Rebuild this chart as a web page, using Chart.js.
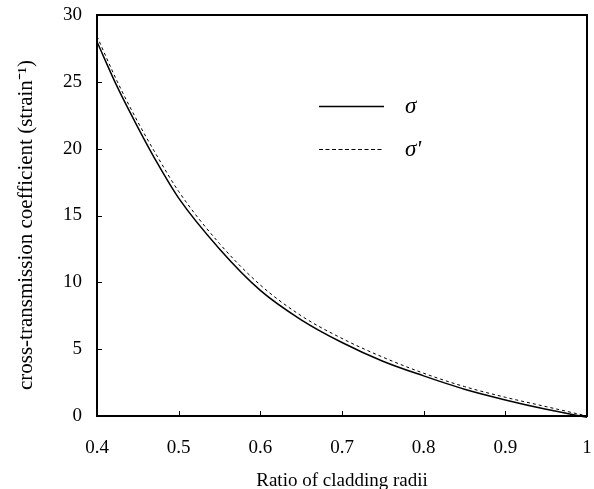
<!DOCTYPE html>
<html>
<head>
<meta charset="utf-8">
<script src="https://cdn.jsdelivr.net/npm/chart.js@4.4.1/dist/chart.umd.min.js"></script>
<style>
  html, body { margin: 0; padding: 0; background: #fff; }
  #wrap { width: 594px; height: 489px; }
</style>
</head>
<body>
<div id="wrap"><canvas id="chart" width="594" height="489"></canvas></div>
<script>
"use strict";

// ratio of cladding radii
const ratios = [0.40, 0.425, 0.45, 0.475, 0.50, 0.55, 0.60, 0.65, 0.70, 0.75, 0.80, 0.85, 0.90, 0.95, 1.00];
// sigma (solid)
const sigma = [28.0, 24.6, 21.6, 18.8, 16.3, 12.5, 9.4, 7.2, 5.5, 4.1, 3.0, 2.0, 1.2, 0.5, -0.1];
// sigma prime (dashed)
const sigmaPrime = [28.4, 25.0, 22.0, 19.3, 16.8, 12.9, 9.8, 7.5, 5.8, 4.4, 3.2, 2.2, 1.4, 0.7, 0.0];

const xTicks = [0.4, 0.5, 0.6, 0.7, 0.8, 0.9, 1.0];
const yTicks = [0, 5, 10, 15, 20, 25, 30];

const seriesNames = ["\u03C3", "\u03C3'"];
const yTitle = "cross-transmission coefficient (strain\u207B\u00B9)";

const serif = "'Liberation Serif', 'Times New Roman', serif";

const toPoints = (ys) => ratios.map((x, i) => ({ x: x, y: ys[i] }));

// no label overhang padding, fixed box sizes
const fixBox = (size) => (axis) => {
  if (axis.isHorizontal()) axis.height = size;
  else axis.width = size;
  axis.paddingLeft = 0;
  axis.paddingRight = 0;
  axis.paddingTop = 0;
  axis.paddingBottom = 0;
};

// frame, inward ticks, y title and legend
const framePlugin = {
  id: "frame",
  afterDraw(chart) {
    const ctx = chart.ctx;
    const area = chart.chartArea;
    const xs = chart.scales.x;
    const ys = chart.scales.y;
    ctx.save();
    ctx.strokeStyle = "#000";
    ctx.lineWidth = 2;
    ctx.strokeRect(area.left, area.top, area.right - area.left, area.bottom - area.top);

    ctx.lineWidth = 1;
    ctx.beginPath();
    xTicks.forEach((v) => {
      const px = Math.round(xs.getPixelForValue(v)) + 0.5;
      ctx.moveTo(px, area.bottom);
      ctx.lineTo(px, area.bottom - 5);
    });
    yTicks.forEach((v) => {
      const py = Math.round(ys.getPixelForValue(v)) + 0.5;
      ctx.moveTo(area.left, py);
      ctx.lineTo(area.left + 5, py);
    });
    ctx.stroke();

    // y axis title, a bit below the axis centre like the original
    ctx.save();
    ctx.translate(26, 225);
    ctx.rotate(-Math.PI / 2);
    ctx.fillStyle = "#000";
    ctx.font = "21px " + serif;
    ctx.textAlign = "center";
    ctx.textBaseline = "middle";
    ctx.fillText(yTitle, 0, 0);
    ctx.restore();

    // legend
    const items = [
      { y: 106, dash: [], width: 1.3 },
      { y: 149, dash: [4, 2.5], width: 1 },
    ];
    items.forEach((it, i) => {
      ctx.beginPath();
      ctx.setLineDash(it.dash);
      ctx.lineWidth = it.width;
      ctx.moveTo(319, it.y + 0.5);
      ctx.lineTo(384, it.y + 0.5);
      ctx.stroke();
      ctx.setLineDash([]);
      ctx.fillStyle = "#000";
      ctx.font = "italic 23px " + serif;
      ctx.textBaseline = "middle";
      ctx.textAlign = "left";
      ctx.fillText(seriesNames[i], 405, it.y + 1);
    });
    ctx.restore();
  },
};

new Chart(document.getElementById("chart"), {
  type: "scatter",
  data: {
    datasets: [
      {
        label: seriesNames[0],
        data: toPoints(sigma),
        showLine: true,
        borderColor: "#000",
        borderWidth: 1.5,
        pointRadius: 0,
        cubicInterpolationMode: "monotone",
      },
      {
        label: seriesNames[1],
        data: toPoints(sigmaPrime),
        showLine: true,
        borderColor: "#000",
        borderWidth: 1,
        borderDash: [3, 3],
        pointRadius: 0,
        cubicInterpolationMode: "monotone",
      },
    ],
  },
  options: {
    responsive: false,
    animation: false,
    clip: false,
    layout: { padding: { left: 0, right: 7, top: 15, bottom: 0 }, autoPadding: false },
    plugins: {
      legend: { display: false },
      tooltip: { enabled: false },
    },
    scales: {
      x: {
        type: "linear",
        min: 0.4,
        max: 1.0,
        afterBuildTicks: (axis) => { axis.ticks = xTicks.map((v) => ({ value: v })); },
        afterFit: fixBox(73),
        grid: { display: false, drawTicks: false },
        border: { display: false },
        ticks: {
          color: "#000",
          padding: 21,
          maxRotation: 0,
          font: { family: serif, size: 19 },
          callback: (v) => String(Number(v.toFixed(1))),
        },
        title: {
          display: true,
          text: "Ratio of cladding radii",
          color: "#000",
          font: { family: serif, size: 19 },
          padding: { top: 0, bottom: -3 },
        },
      },
      y: {
        min: 0,
        max: 30,
        afterBuildTicks: (axis) => { axis.ticks = yTicks.map((v) => ({ value: v })); },
        afterFit: fixBox(97),
        grid: { display: false, drawTicks: false },
        border: { display: false },
        ticks: {
          color: "#000",
          padding: 15,
          font: { family: serif, size: 19 },
        },
        title: { display: false },
      },
    },
  },
  plugins: [framePlugin],
});
</script>
</body>
</html>
